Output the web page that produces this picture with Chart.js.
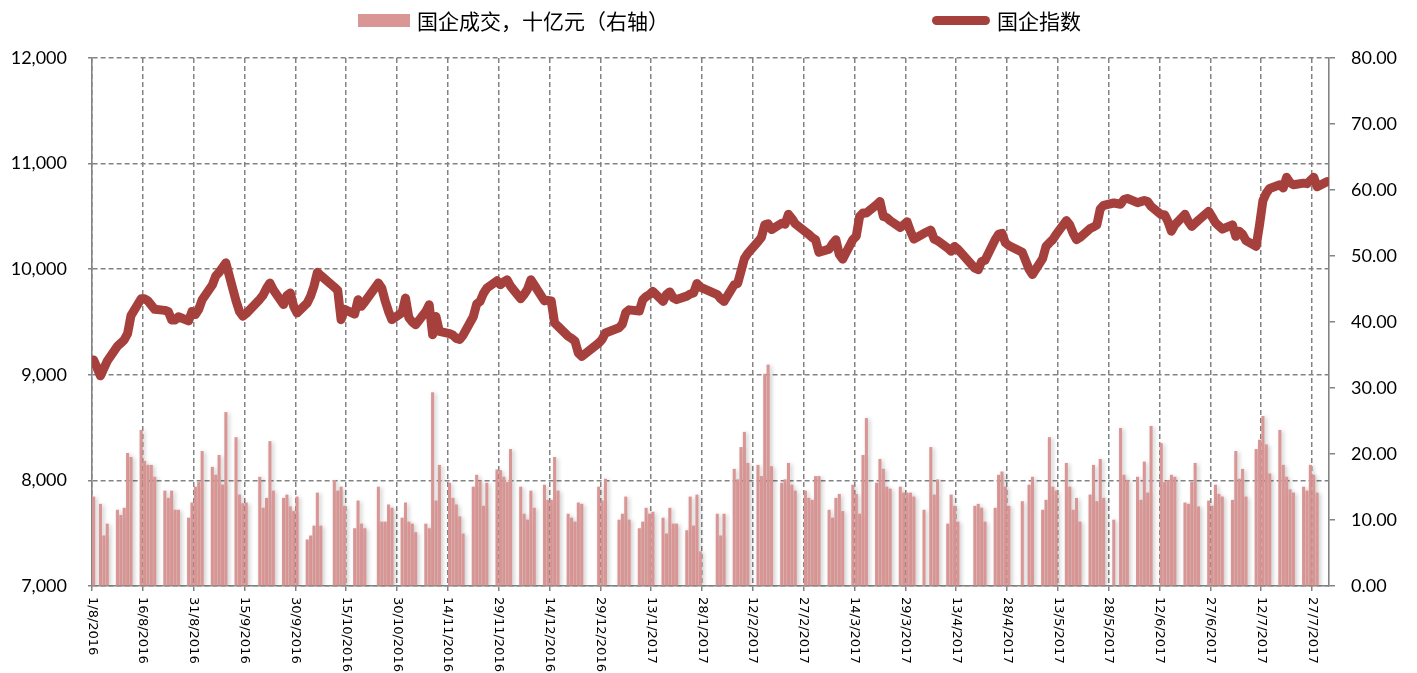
<!DOCTYPE html>
<html>
<head>
<meta charset="utf-8">
<script src="https://cdn.jsdelivr.net/npm/chart.js@4.4.0/dist/chart.umd.min.js"></script>
<style>
  html, body { margin: 0; padding: 0; background: #fff; }
  #wrap { position: relative; width: 1417px; height: 673px; }
  .lg { position: absolute; top: 6px; height: 28px; display: flex; align-items: center;
        font: 21px "Noto Sans CJK SC", sans-serif; color: #000; white-space: nowrap; }
  .lg .sw { display: inline-block; margin-right: 7px; }
</style>
</head>
<body>
<div id="wrap">
  <canvas id="c" width="1417" height="673"></canvas>
  <div class="lg" style="left:358px"><span class="sw" style="width:52px;height:13px;background:#D99694"></span>国企成交，十亿元（右轴）</div>
  <div class="lg" style="left:932px"><span class="sw" style="width:58px;height:9px;border-radius:5px;background:#A5403D"></span>国企指数</div>
</div>
<script>
// axis labels every 15 calendar days from 1/8/2016
const tickLabels = ['1/8/2016', '16/8/2016', '31/8/2016', '15/9/2016', '30/9/2016', '15/10/2016',
  '30/10/2016', '14/11/2016', '29/11/2016', '14/12/2016', '29/12/2016', '13/1/2017', '28/1/2017',
  '12/2/2017', '27/2/2017', '14/3/2017', '29/3/2017', '13/4/2017', '28/4/2017', '13/5/2017',
  '28/5/2017', '12/6/2017', '27/6/2017', '12/7/2017', '27/7/2017']

// HK market closed days (besides weekends)
const holidays = ['2016-08-02', '2016-09-16', '2016-10-10', '2016-10-21', '2016-12-26', '2016-12-27',
  '2017-01-02', '2017-01-30', '2017-01-31', '2017-04-04', '2017-04-14', '2017-04-17',
  '2017-05-01', '2017-05-03', '2017-05-30']

// 国企成交, 十亿元 (one value per trading day)
const turnoverAug16 = [13.5, 12.4, 7.6, 9.4, 11.5, 10.7, 11.8, 20.1, 19.5, 23.6, 18.9, 18.3, 18.3, 16.5, 14.4, 13.3, 14.4, 11.5, 11.5, 10.3, 12.6, 15.0]
const turnoverSep16 = [15.7, 20.4, 18.0, 16.8, 19.8, 15.3, 26.3, 22.5, 13.8, 12.5, 12.6, 16.5, 11.8, 13.3, 21.9, 14.4, 13.3, 13.8, 12.0, 11.3, 13.5]
const turnoverOct16 = [7.0, 7.6, 9.1, 14.1, 9.1, 16.0, 14.4, 15.0, 12.1, 8.7, 12.9, 9.4, 8.7, 15.0, 9.7, 9.7, 12.3, 11.8, 10.3]
const turnoverNov16 = [12.6, 9.7, 9.4, 8.1, 9.4, 8.7, 29.3, 12.9, 18.3, 15.6, 13.3, 12.3, 10.5, 7.9, 15.0, 16.8, 15.9, 12.1, 15.6, 17.6, 17.5, 16.5]
const turnoverDec16 = [15.7, 20.7, 15.0, 10.9, 10.0, 14.4, 11.8, 15.3, 13.0, 13.0, 19.5, 14.4, 10.9, 10.3, 9.7, 12.6, 12.4, 15.0, 12.9, 16.2]
const turnoverJan17 = [10.0, 10.9, 13.5, 10.0, 8.7, 9.7, 11.8, 10.9, 11.2, 10.3, 7.9, 11.8, 9.4, 9.4, 8.4, 13.5, 9.1, 13.8, 5.2]
const turnoverFeb17 = [10.9, 7.6, 10.9, 17.7, 16.1, 21.0, 23.3, 18.6, 18.3, 16.6, 32.1, 33.5, 18.1, 15.6, 16.1, 18.6, 15.3, 14.4, 14.4, 13.3]
const turnoverMar17 = [13.0, 16.6, 16.6, 11.5, 10.3, 13.3, 13.9, 11.3, 15.3, 13.9, 10.9, 19.8, 25.4, 15.6, 19.2, 17.7, 15.0, 14.7, 15.0, 14.1, 14.1, 14.1, 13.5]
const turnoverApr17 = [11.5, 21.0, 13.8, 16.1, 9.4, 13.8, 12.1, 9.7, 12.1, 12.4, 11.8, 9.7, 11.8, 16.8, 17.3, 15.0, 12.1]
const turnoverMay17 = [12.8, 15.3, 16.5, 11.5, 13.0, 22.5, 15.0, 14.4, 18.6, 15.0, 11.5, 13.3, 9.7, 13.8, 18.3, 12.8, 19.2, 13.3, 10.0, 23.9]
const turnoverJun17 = [16.8, 16.0, 16.5, 13.0, 18.8, 14.1, 24.2, 21.6, 15.7, 16.0, 16.8, 16.5, 12.6, 12.4, 15.7, 18.6, 12.0, 12.9, 12.1, 15.3, 13.9, 13.5]
const turnoverJul17 = [13.0, 20.4, 16.2, 17.7, 13.5, 20.7, 22.1, 25.7, 21.4, 17.0, 23.6, 18.3, 16.5, 14.6, 14.1, 15.0, 14.4, 18.3, 16.8, 14.1, null]

// 国企指数
const indexAug16 = [9140, 8990, 9060, 9130, 9270, 9300, 9330, 9390, 9560, 9720, 9720, 9700, 9660, 9620, 9610, 9600, 9520, 9520, 9550, 9510, 9600, 9570]
const indexSep16 = [9620, 9710, 9850, 9935, 9970, 10015, 10060, 9700, 9600, 9555, 9580, 9715, 9755, 9820, 9869, 9806, 9665, 9750, 9775, 9650, 9585]
const indexOct16 = [9680, 9745, 9840, 9970, 9940, 9830, 9800, 9522, 9620, 9575, 9711, 9650, 9690, 9869, 9822, 9700, 9600, 9522, 9590]
const indexNov16 = [9727, 9540, 9500, 9474, 9600, 9664, 9380, 9553, 9411, 9390, 9375, 9345, 9335, 9375, 9550, 9670, 9695, 9770, 9820, 9890, 9853, 9880]
const indexDec16 = [9900, 9840, 9720, 9760, 9810, 9900, 9850, 9700, 9705, 9700, 9490, 9460, 9365, 9345, 9320, 9206, 9174, 9300, 9335, 9396]
const indexJan17 = [9445, 9480, 9590, 9615, 9605, 9710, 9740, 9760, 9790, 9695, 9760, 9785, 9730, 9712, 9745, 9765, 9775, 9865, 9830]
const indexFeb17 = [9760, 9720, 9695, 9853, 9865, 9980, 10100, 10150, 10260, 10300, 10420, 10430, 10375, 10435, 10425, 10520, 10480, 10430, 10355, 10330]
const indexMar17 = [10300, 10279, 10160, 10190, 10240, 10279, 10140, 10095, 10280, 10311, 10500, 10532, 10532, 10610, 10640, 10500, 10490, 10460, 10395, 10420, 10450, 10360, 10285]
const indexApr17 = [10340, 10370, 10285, 10270, 10200, 10169, 10216, 10190, 10010, 9995, 10074, 10085, 10280, 10330, 10340, 10250, 10225]
const indexMay17 = [10160, 10000, 9950, 10100, 10216, 10250, 10280, 10330, 10460, 10420, 10340, 10280, 10300, 10385, 10400, 10420, 10570, 10605, 10627, 10615]
const indexJun17 = [10660, 10670, 10630, 10640, 10650, 10640, 10595, 10516, 10516, 10450, 10360, 10420, 10520, 10450, 10405, 10435, 10465, 10548, 10495, 10440, 10410, 10380]
const indexJul17 = [10420, 10311, 10360, 10330, 10270, 10216, 10420, 10650, 10720, 10765, 10800, 10770, 10870, 10820, 10800, 10815, 10810, 10840, 10870, 10780, 10830]

const turnover = [].concat(turnoverAug16, turnoverSep16, turnoverOct16, turnoverNov16, turnoverDec16, turnoverJan17,
  turnoverFeb17, turnoverMar17, turnoverApr17, turnoverMay17, turnoverJun17, turnoverJul17)
const hscei = [].concat(indexAug16, indexSep16, indexOct16, indexNov16, indexDec16, indexJan17,
  indexFeb17, indexMar17, indexApr17, indexMay17, indexJun17, indexJul17)

// calendar days since 1/8/2016 that were trading days
const start = Date.UTC(2016, 7, 1)
const tradingDays = []
for (let d = 0; d < 365; d++) {
  const dt = new Date(start + d * 86400000)
  const wd = dt.getUTCDay()
  if (wd === 0 || wd === 6 || holidays.includes(dt.toISOString().slice(0, 10))) continue
  tradingDays.push(d)
}

const GRID = '#838383'

// bars get the soft excel-like shadow
const barShadow = {
  id: 'barShadow',
  beforeDatasetDraw(chart, args) {
    if (args.index !== 0) return
    const ctx = chart.ctx
    ctx.save()
    ctx.shadowColor = 'rgba(0,0,0,0.22)'
    ctx.shadowBlur = 4
    ctx.shadowOffsetX = 2
    ctx.shadowOffsetY = 1
  },
  afterDatasetDraw(chart, args) {
    if (args.index !== 0) return
    chart.ctx.restore()
  },
}

// date labels read top to bottom, so draw them by hand
const xLabels = {
  id: 'xLabels',
  afterDraw(chart) {
    const { ctx, chartArea } = chart
    const x = chart.scales.x
    ctx.save()
    ctx.font = '13px "DejaVu Sans"'
    ctx.fillStyle = '#000'
    ctx.textAlign = 'left'
    ctx.textBaseline = 'middle'
    tickLabels.forEach((lab, i) => {
      ctx.save()
      ctx.translate(x.getPixelForValue(i * 15), chartArea.bottom + 11)
      ctx.rotate(Math.PI / 2)
      ctx.fillText(lab, 0, 0)
      ctx.restore()
    })
    ctx.restore()
  },
}

new Chart(document.getElementById('c').getContext('2d'), {
  data: {
    datasets: [
      {
        type: 'bar',
        label: '国企成交，十亿元（右轴）',
        data: tradingDays.map((d, i) => ({ x: d + 0.5, y: turnover[i] })),
        yAxisID: 'y1',
        backgroundColor: '#D99694',
        barThickness: 2.4,
        order: 2,
      },
      {
        type: 'line',
        label: '国企指数',
        data: tradingDays.map((d, i) => ({ x: d + 0.5, y: hscei[i] })),
        yAxisID: 'y',
        borderColor: '#A5403D',
        borderWidth: 9,
        borderJoinStyle: 'round',
        borderCapStyle: 'round',
        pointRadius: 0,
        tension: 0,
        spanGaps: true,
        order: 1,
      },
    ],
  },
  options: {
    responsive: false,
    animation: false,
    layout: { padding: { top: 58 } },
    plugins: { legend: { display: false }, tooltip: { enabled: false } },
    scales: {
      x: {
        type: 'linear',
        offset: false,
        min: 0,
        max: 365,
        afterBuildTicks: s => { s.ticks = tickLabels.map((l, i) => ({ value: i * 15 })) },
        afterFit: s => { s.height = 87 },
        ticks: { display: false },
        grid: { offset: false, color: GRID, lineWidth: 1.5, tickLength: 5 },
        border: { color: GRID, width: 1.6, dash: [5, 3] },
      },
      y: {
        position: 'left',
        min: 7000,
        max: 12000,
        afterFit: s => { s.width = 92 },
        ticks: {
          stepSize: 1000,
          padding: 21,
          color: '#000',
          font: { family: 'Lato', size: 18 },
          callback: v => v.toLocaleString('en-US'),
        },
        grid: { color: GRID, lineWidth: 1.5, tickLength: 4 },
        border: { color: GRID, width: 1.6, dash: [5, 3] },
      },
      y1: {
        position: 'right',
        min: 0,
        max: 80,
        afterFit: s => { s.width = 88 },
        ticks: {
          stepSize: 10,
          padding: 16,
          color: '#000',
          font: { family: 'Lato', size: 18 },
          callback: v => v.toFixed(2),
        },
        grid: { drawOnChartArea: false, color: GRID, lineWidth: 1.5, tickLength: 6 },
        border: { color: GRID, width: 1.6 },
      },
    },
  },
  plugins: [barShadow, xLabels],
})
</script>
</body>
</html>
